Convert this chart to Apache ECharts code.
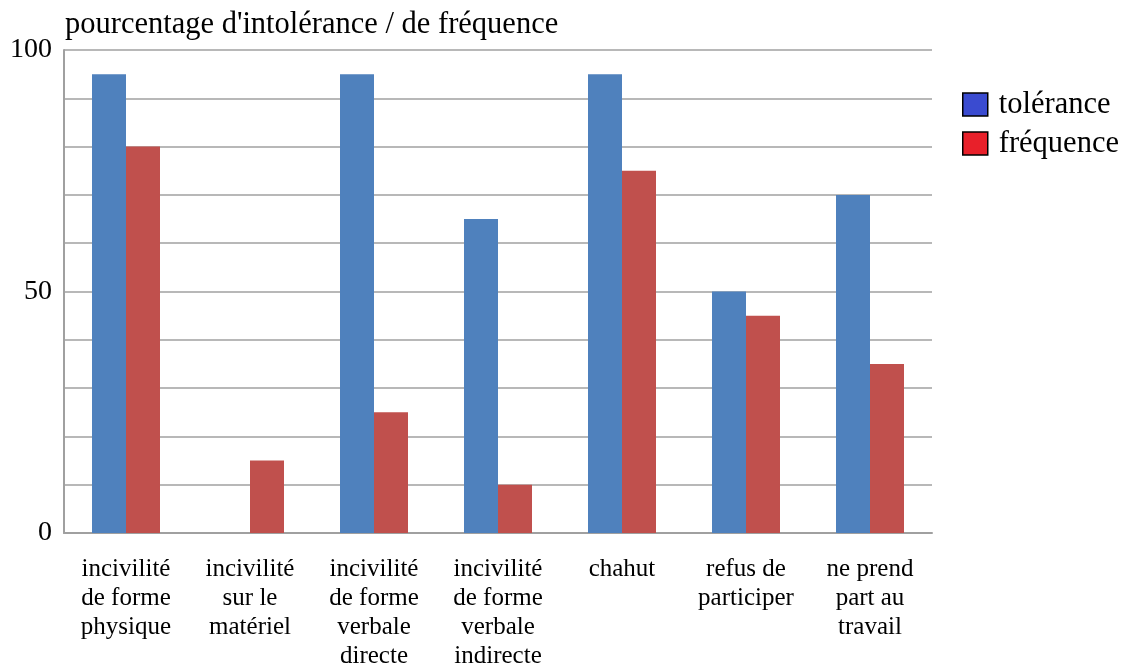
<!DOCTYPE html>
<html>
<head>
<meta charset="utf-8">
<script src="https://cdn.jsdelivr.net/npm/echarts@6/dist/echarts.min.js"></script>
<style>
  html, body { margin: 0; padding: 0; background: #fff; }
  #chart { width: 1126px; height: 666px; }
</style>
</head>
<body>
<div id="chart"></div>
<script>
// categories and values
var categories = [
    'incivilité\nde forme\nphysique',
    'incivilité\nsur le\nmatériel',
    'incivilité\nde forme\nverbale\ndirecte',
    'incivilité\nde forme\nverbale\nindirecte',
    'chahut',
    'refus de\nparticiper',
    'ne prend\npart au\ntravail'
];
var tolerance = [95, 0, 95, 65, 95, 50, 70];
var frequence = [80, 15, 25, 10, 75, 45, 35];
var yLabels = [0, 50, 100];

var serif = '"Liberation Serif", "DejaVu Serif", serif';

var myChart = echarts.init(document.getElementById('chart'));

var option = {
    backgroundColor: '#fff',
    animation: false,
    title: {
        text: "pourcentage d'intolérance / de fréquence",
        left: 60,
        top: 4,
        textStyle: { fontFamily: serif, fontSize: 30.5, fontWeight: 'normal', color: '#000' }
    },
    legend: {
        orient: 'vertical',
        left: 957,
        top: 84,
        itemWidth: 25,
        itemHeight: 23,
        itemGap: 8,
        icon: 'rect',
        textStyle: { fontFamily: serif, fontSize: 30.5, color: '#000', padding: [0, 0, 0, 6] },
        data: [
            { name: 'tolérance', itemStyle: { color: '#3a4bd0', borderColor: '#000', borderWidth: 1.5 } },
            { name: 'fréquence', itemStyle: { color: '#e8202a', borderColor: '#000', borderWidth: 1.5 } }
        ]
    },
    grid: {
        left: 64,
        right: 194,
        top: 50,
        bottom: 133,
        containLabel: false,
        outerBoundsMode: 'none'
    },
    xAxis: {
        type: 'category',
        data: categories,
        axisLine: { show: true, lineStyle: { color: '#a0a0a0', width: 2 } },
        axisTick: { show: false },
        axisLabel: {
            interval: 0,
            margin: 22,
            fontFamily: serif,
            fontSize: 25,
            lineHeight: 29,
            color: '#000',
            align: 'center',
            verticalAlign: 'top'
        }
    },
    yAxis: {
        type: 'value',
        min: 0,
        max: 100,
        interval: 10,
        axisLine: { show: true, lineStyle: { color: '#a0a0a0', width: 2 } },
        axisTick: { show: false },
        splitLine: { show: true, lineStyle: { color: '#a0a0a0', width: 1.5 } },
        axisLabel: {
            margin: 12,
            fontFamily: serif,
            fontSize: 28,
            color: '#000',
            formatter: function (v) {
                return yLabels.indexOf(v) >= 0 ? String(v) : '';
            }
        }
    },
    series: [
        {
            name: 'tolérance',
            type: 'bar',
            barWidth: 34,
            barGap: '0%',
            itemStyle: { color: '#4f81bd' },
            data: tolerance
        },
        {
            name: 'fréquence',
            type: 'bar',
            barWidth: 34,
            barGap: '0%',
            itemStyle: { color: '#c0504d' },
            data: frequence
        }
    ]
};

myChart.setOption(option);
</script>
</body>
</html>
